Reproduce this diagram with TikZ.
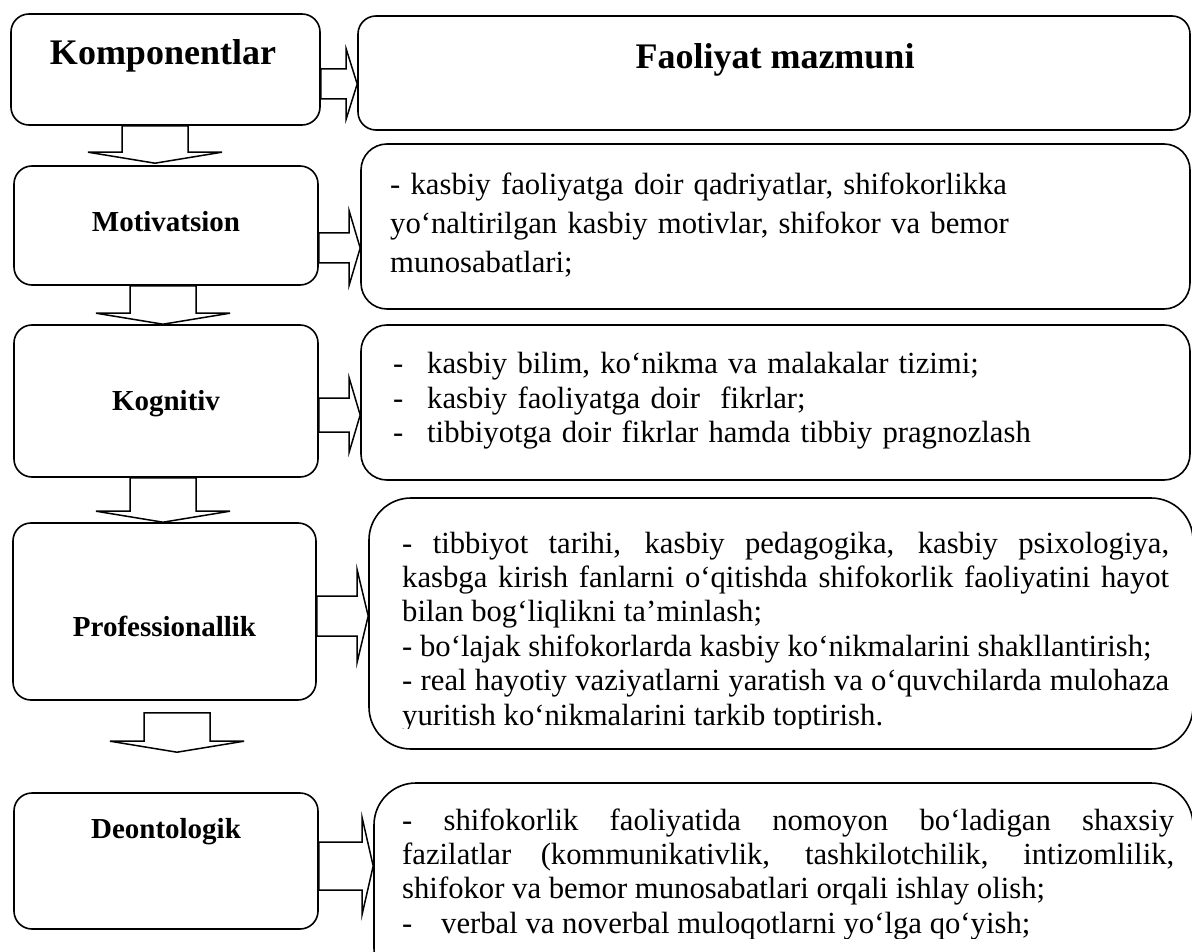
\documentclass[tikz,border=0pt]{standalone}
\usepackage{fontspec}
\setmainfont{Liberation Serif}
\usetikzlibrary{calc}
\begin{document}
\begin{tikzpicture}[x=1pt,y=-1pt,
  box/.style={draw, rounded corners=18pt, line width=1.6pt, inner sep=0pt},
  blk/.style={draw, fill=white, line width=1.5pt},
  ttl/.style={font=\bfseries\fontsize{36}{40}\selectfont, anchor=base},
  lbl/.style={font=\bfseries\fontsize{29}{33}\selectfont, anchor=base},
  txt/.style={font=\fontsize{30.7}{34.4}\selectfont, anchor=base west, inner sep=0pt}]
\useasboundingbox (0,0) rectangle (1192,952);

\node[box, minimum width=309pt, minimum height=111pt] (komp) at (165.5,69.5) {};
\node[box, minimum width=304pt, minimum height=119pt] (motiv) at (166,225.5) {};
\node[box, minimum width=304pt, minimum height=152pt] (kogn) at (166,401) {};
\node[box, minimum width=303pt, minimum height=177pt] (prof) at (164.5,611.5) {};
\node[box, minimum width=304pt, minimum height=136pt] (deon) at (166,861) {};

\node[box, minimum width=832pt, minimum height=114pt] (faol) at (774,73) {};
\node[box, rounded corners=26pt, minimum width=829pt, minimum height=165pt] (motivt) at (775.5,226.5) {};
\node[box, rounded corners=26pt, minimum width=829pt, minimum height=155pt] (kognt) at (775.5,402.5) {};
\node[box, rounded corners=42pt, minimum width=824pt, minimum height=251pt] (proft) at (781,623.5) {};
\node[box, rounded corners=42pt, minimum width=819pt, minimum height=207pt] (deont) at (783.5,886.5) {};

\node[ttl] (kompl) at (163,65) {Komponentlar};
\node[ttl] (faoll) at (775,69) {Faoliyat mazmuni};
\node[lbl] (motivl) at (166,232) {Motivatsion};
\node[lbl] (kognl) at (166,410) {Kognitiv};
\node[lbl] (profl) at (164.5,636) {Professionallik};
\node[lbl] (deonl) at (166,838) {Deontologik};

\foreach \a/\b/\cx/\t/\g in {komp/motiv/155/0/2, motiv/kogn/163/0/0, kogn/prof/163/0/0, prof/deon/177/12/40}
  {\draw[blk] let \p1=(\a.south), \p2=(\b.north), \p3=(\cx,0) in
    (\x3-33,\y1-\t) -- (\x3-33,\y2+\g+11) -- (\x3-67,\y2+\g+11) -- (\x3,\y2+\g)
    -- (\x3+67,\y2+\g+11) -- (\x3+33,\y2+\g+11) -- (\x3+33,\y1-\t) -- cycle;}
\foreach \a/\b/\yc/\s/\h in {komp/faol/84/15/35, motiv/motivt/248/15/37, kogn/kognt/415/17/37, prof/proft/616/20/46, deon/deont/866/24/48}
  {\draw[blk] let \p1=(\a.east), \p2=(\b.west), \p3=(0,\yc) in
    (\x1,\y3+\s) -- (\x2-11,\y3+\s) -- (\x2-11,\y3+\h) -- (\x2,\y3)
    -- (\x2-11,\y3-\h) -- (\x2-11,\y3-\s) -- (\x1,\y3-\s) -- cycle;}

\node[txt, text width=780pt, align=left, font=\fontsize{30.7}{39}\selectfont] (motivtx) at (390,195)
  {- kasbiy faoliyatga doir qadriyatlar, shifokorlikka\\ yo‘naltirilgan kasbiy motivlar, shifokor va bemor\\ munosabatlari;};
\node[txt, text width=780pt, align=left, font=\fontsize{30.7}{35}\selectfont] (kogntx) at (393,373)
  {\makebox[34pt][l]{-}kasbiy bilim, ko‘nikma va malakalar tizimi;\\
   \makebox[34pt][l]{-}kasbiy faoliyatga doir~ fikrlar;\\
   \makebox[34pt][l]{-}tibbiyotga doir fikrlar hamda tibbiy pragnozlash};
\begin{scope}
\clip (369,498) rectangle (1192,728);
\node[txt, text width=767pt, align=justify] (proftx) at (402,553)
  {- tibbiyot tarihi, kasbiy pedagogika, kasbiy psixologiya,\linebreak
   kasbga kirish fanlarni o‘qitishda shifokorlik faoliyatini hayot\linebreak
   bilan bog‘liqlikni ta’minlash;\\
   - bo‘lajak shifokorlarda kasbiy ko‘nikmalarini shakllantirish;\\
   - real hayotiy vaziyatlarni yaratish va o‘quvchilarda mulohaza\linebreak
   yuritish ko‘nikmalarini tarkib toptirish.};
\end{scope}
\begin{scope}
\clip (374,783) rectangle (1192,938);
\node[txt, text width=772pt, align=justify] (deontx) at (402,830)
  {- shifokorlik faoliyatida nomoyon bo‘ladigan shaxsiy\linebreak
   fazilatlar (kommunikativlik, tashkilotchilik, intizomlilik,\linebreak
   shifokor va bemor munosabatlari orqali ishlay olish;\\
   \makebox[39pt][l]{-}verbal va noverbal muloqotlarni yo‘lga qo‘yish;};
\end{scope}

\end{tikzpicture}
\end{document}
